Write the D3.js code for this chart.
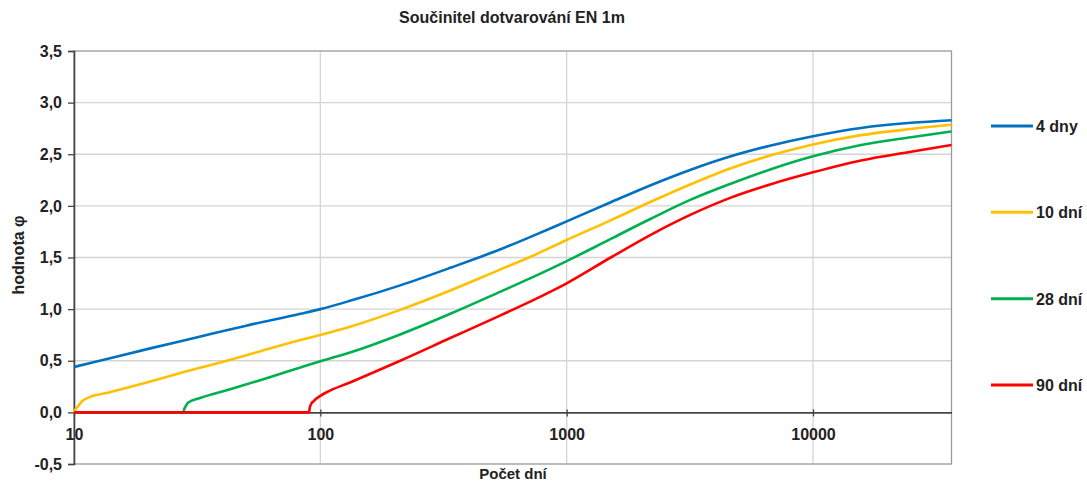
<!DOCTYPE html>
<html><head><meta charset="utf-8">
<script src="https://cdn.jsdelivr.net/npm/d3@7"></script>
<style>
html,body{margin:0;padding:0;background:#fff;}
text{font-family:"Liberation Sans",Arial,sans-serif;font-weight:bold;fill:#222;}
</style></head>
<body>
<svg id="chart" width="1087" height="483"></svg>
<script>
const title = "Součinitel dotvarování EN 1m";
const xTitle = "Počet dní";
const yTitle = "hodnota φ";
const seriesNames = ["4 dny", "10 dní", "28 dní", "90 dní"];
const seriesColors = ["#0070C0", "#FFC000", "#00B050", "#FF0000"];
const xTicks = [10, 100, 1000, 10000];
const yTicks = [-0.5, 0, 0.5, 1, 1.5, 2, 2.5, 3, 3.5];

const days4 = [10, 12, 20, 32, 50, 83, 100, 132, 211, 337, 539, 714, 1000, 1510, 2195, 3190, 4640, 6750, 10000, 15670, 25000, 36500];
const phi4  = [0.44, 0.485, 0.615, 0.73, 0.84, 0.955, 1.00, 1.08, 1.23, 1.40, 1.58, 1.70, 1.85, 2.035, 2.20, 2.35, 2.48, 2.585, 2.675, 2.755, 2.805, 2.83];

const days10 = [10, 10.15, 10.4, 10.8, 11.5, 13.7, 18.7, 31.6, 41, 65, 83, 100, 132, 211, 337, 539, 714, 1000, 1510, 2195, 3190, 4640, 6750, 10000, 15670, 25000, 36500];
const phi10  = [0, 0.03, 0.06, 0.11, 0.145, 0.19, 0.275, 0.425, 0.495, 0.63, 0.70, 0.75, 0.83, 0.993, 1.18, 1.385, 1.507, 1.67, 1.86, 2.04, 2.21, 2.365, 2.49, 2.595, 2.685, 2.745, 2.785];

const days28 = [10, 27.8, 28.0, 28.5, 29.1, 32.5, 41.7, 47.6, 65, 83, 100, 132, 211, 337, 539, 714, 1000, 1510, 2195, 3190, 4640, 6750, 10000, 15670, 25000, 36500];
const phi28  = [0, 0, 0.03, 0.065, 0.095, 0.14, 0.215, 0.255, 0.355, 0.435, 0.495, 0.58, 0.755, 0.955, 1.17, 1.30, 1.465, 1.68, 1.875, 2.06, 2.215, 2.355, 2.48, 2.59, 2.665, 2.72];

const days90 = [10, 90, 90.5, 91.5, 94, 100, 106, 132, 211, 337, 539, 714, 1000, 1510, 2195, 3190, 4640, 6750, 10000, 15670, 25000, 36500];
const phi90  = [0, 0, 0.04, 0.075, 0.11, 0.16, 0.195, 0.29, 0.50, 0.72, 0.94, 1.075, 1.25, 1.50, 1.72, 1.915, 2.08, 2.21, 2.325, 2.44, 2.525, 2.59];

const allDays = [days4, days10, days28, days90];
const allPhi = [phi4, phi10, phi28, phi90];

const svg = d3.select("#chart");
const L = 74, R = 951.5, T = 51, B = 464;
const x = d3.scaleLog().domain([10, 36500]).range([L, R]);
const y = d3.scaleLinear().domain([-0.5, 3.5]).range([B, T]);

// gridlines
svg.append("g").selectAll("line").data(yTicks.filter(v => v !== 0 && v !== -0.5 && v !== 3.5)).join("line")
  .attr("x1", L).attr("x2", R).attr("y1", d => y(d)).attr("y2", d => y(d))
  .attr("stroke", "#d4d4d4").attr("stroke-width", 1.3);
svg.append("g").selectAll("line").data(xTicks.slice(1)).join("line")
  .attr("x1", d => x(d)).attr("x2", d => x(d)).attr("y1", T).attr("y2", B)
  .attr("stroke", "#d4d4d4").attr("stroke-width", 1.3);

// border
svg.append("rect").attr("x", L).attr("y", T).attr("width", R - L).attr("height", B - T)
  .attr("fill", "none").attr("stroke", "#9a9a9a").attr("stroke-width", 1.3);

// y axis
const yAxis = d3.axisLeft(y).tickValues(yTicks).tickSize(6).tickPadding(6)
  .tickFormat(d => d3.format(".1f")(d).replace(".", ",").replace("−", "-"));
const gy = svg.append("g").attr("transform", `translate(${L},0)`).call(yAxis);
gy.select(".domain").attr("stroke", "#444").attr("stroke-width", 1.6);
gy.selectAll(".tick line").attr("stroke", "#444").attr("stroke-width", 1.3);
gy.selectAll(".tick text").style("font-size", "16px").attr("fill", "#222");

// x axis at y=0
const xAxis = d3.axisBottom(x).tickValues(xTicks).tickSizeInner(4).tickSizeOuter(0).tickPadding(12)
  .tickFormat(d3.format("d"));
const gx = svg.append("g").attr("transform", `translate(0,${y(0)})`).call(xAxis);
gx.select(".domain").attr("stroke", "#444").attr("stroke-width", 1.6);
gx.selectAll(".tick line").attr("stroke", "#444").attr("stroke-width", 1.3).attr("y1", -3);
gx.selectAll(".tick text").style("font-size", "16px").attr("fill", "#222");

// lines
const line = d3.line().x(d => x(d[0])).y(d => y(d[1])).curve(d3.curveMonotoneX);
allDays.forEach((days, i) => {
  const pts = days.map((t, j) => [t, allPhi[i][j]]);
  svg.append("path").datum(pts).attr("d", line)
    .attr("fill", "none").attr("stroke", seriesColors[i]).attr("stroke-width", 2.6)
    .attr("stroke-linejoin", "round");
});

// titles
svg.append("text").attr("x", 512).attr("y", 23).attr("text-anchor", "middle")
  .style("font-size", "16px").text(title);
svg.append("text").attr("x", 513).attr("y", 479).attr("text-anchor", "middle")
  .style("font-size", "15px").text(xTitle);
svg.append("text").attr("transform", "translate(24,255) rotate(-90)").attr("text-anchor", "middle")
  .style("font-size", "16px").text(yTitle);

// legend
const legY = d3.scalePoint().domain(seriesNames).range([126, 385]);
const leg = svg.append("g").selectAll("g").data(seriesNames).join("g")
  .attr("transform", d => `translate(991,${legY(d)})`);
leg.append("line").attr("x1", 0).attr("x2", 42).attr("y1", 0).attr("y2", 0)
  .attr("stroke", (d, i) => seriesColors[i]).attr("stroke-width", 3);
leg.append("text").attr("x", 45).attr("y", 6).style("font-size", "16px").text(d => d);
</script>
</body></html>
